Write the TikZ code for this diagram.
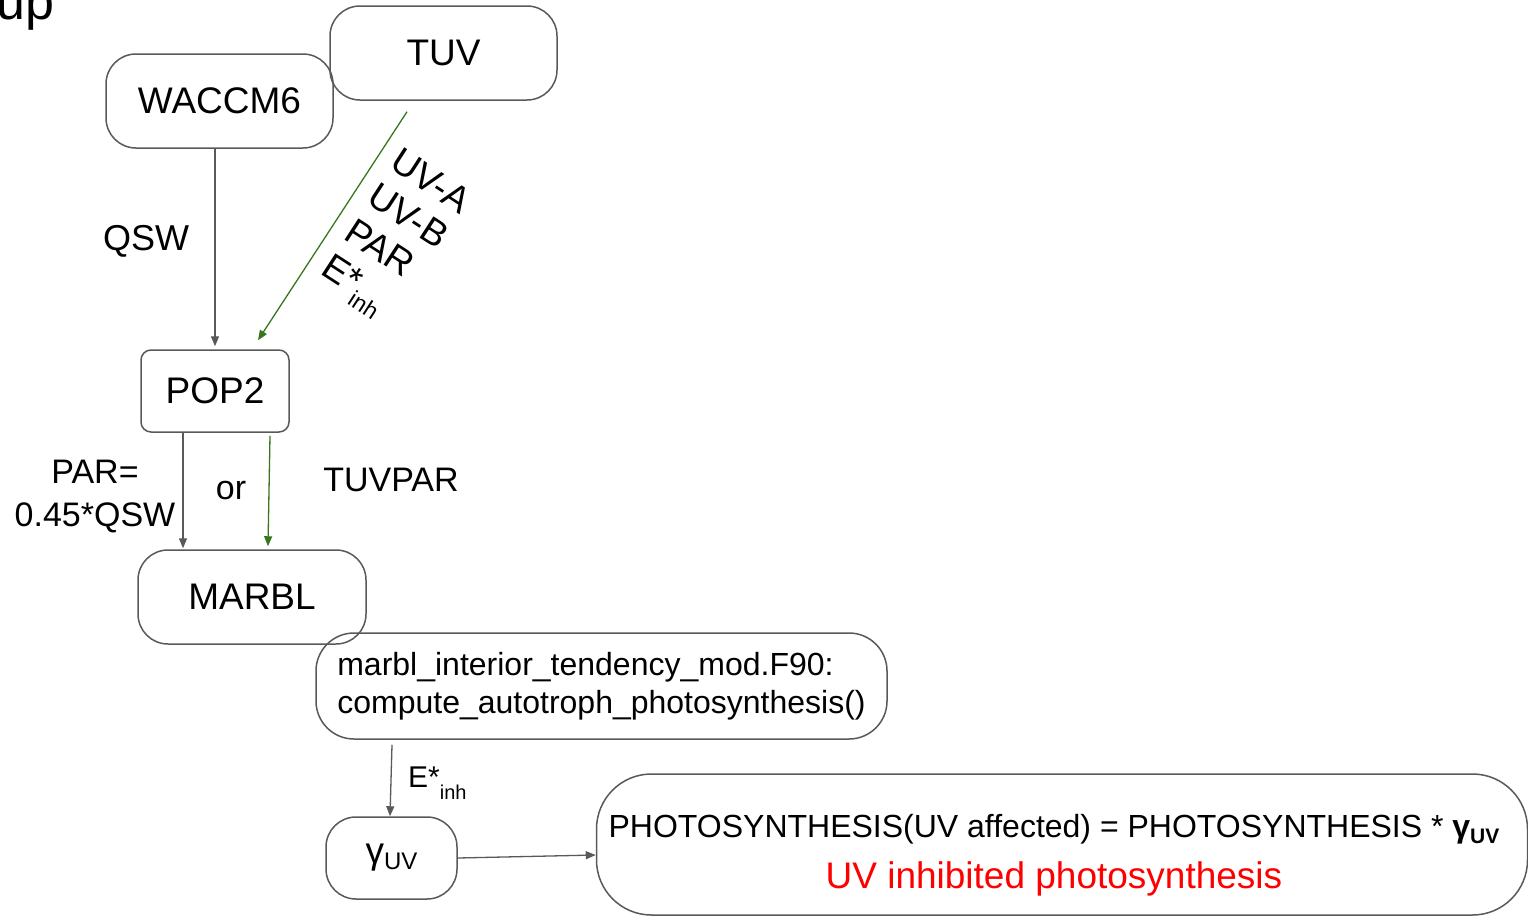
\documentclass[tikz,border=0pt]{standalone}
\usepackage{fontspec}
\setmainfont{Liberation Sans}
\usetikzlibrary{arrows.meta}
\definecolor{lgray}{RGB}{89,89,89}
\definecolor{dgreen}{RGB}{56,118,29}
\definecolor{pred}{RGB}{255,0,0}
\begin{document}
\begin{tikzpicture}[x=1pt,y=-1pt,
  box/.style={draw=lgray, line width=1.5pt, inner sep=0pt, align=center},
  bigtext/.style={font=\fontsize{37}{44}\selectfont},
  lbl/.style={inner sep=0pt, font=\fontsize{34}{43}\selectfont, align=center},
  grayarrow/.style={draw=lgray, line width=1.3pt, -{Triangle[length=10pt,width=8pt]}},
  greenarrow/.style={draw=dgreen, line width=1.3pt, -{Triangle[length=10pt,width=8pt]}}]
\useasboundingbox (0,0) rectangle (1528,918);

% title fragment
\node[anchor=base west, inner sep=0pt, font=\fontsize{52}{52}\selectfont] (title) at (-4,19) {up};

% boxes
\node[box, bigtext, rounded corners=30pt, minimum width=227pt, minimum height=94pt] (waccm) at (219.5,101) {WACCM6};
\node[box, bigtext, rounded corners=30pt, minimum width=227pt, minimum height=94pt] (tuv) at (443.5,53) {TUV};
\node[box, bigtext, rounded corners=10pt, minimum width=148pt, minimum height=82pt] (pop) at (215,391) {POP2};
\node[box, bigtext, rounded corners=30pt, minimum width=228pt, minimum height=94pt] (marbl) at (252,597) {MARBL};
\node[box, rounded corners=38pt, minimum width=571pt, minimum height=106pt, align=left,
      font=\fontsize{32}{38}\selectfont] (code) at (601.5,686)
      {marbl\_interior\_tendency\_mod.F90:\\compute\_autotroph\_photosynthesis()};
\node[box, rounded corners=30pt, minimum width=131pt, minimum height=82pt,
      font=\fontsize{37}{44}\selectfont] (gam) at (391.5,858)
      {γ\raisebox{-6pt}{\fontsize{24}{24}\selectfont UV}};
\node[box, rounded corners=55pt, minimum width=931pt, minimum height=141pt] (photo) at (1062,844.5) {};
\node[anchor=base, inner sep=0pt, font=\fontsize{32}{36}\selectfont] (ph1) at (1054,837)
      {PHOTOSYNTHESIS(UV affected) = PHOTOSYNTHESIS * {\bfseries γ\raisebox{-6pt}{\fontsize{21}{21}\selectfont UV}}};
\node[anchor=base, inner sep=0pt, text=pred, font=\fontsize{37}{44}\selectfont] (ph2) at (1054,888)
      {UV inhibited photosynthesis};

% connectors
\draw[grayarrow] ([xshift=-4.5pt]waccm.south) -- ([yshift=3pt]pop.north);
\draw[greenarrow] ([shift={(-36.5,11)}]tuv.south) -- ([shift={(43,-9)}]pop.north);
\draw[grayarrow] ([xshift=-32pt]pop.south) -- ([shift={(-69,-1)}]marbl.north);
\draw[greenarrow] ([shift={(55,3)}]pop.south) -- ([shift={(16,-3)}]marbl.north);
\draw[grayarrow] ([shift={(-209.5,5)}]code.south) -- ([xshift=-1.5pt]gam.north);
\draw[grayarrow] (gam.east) -- ([yshift=-10.5pt]photo.west);

% labels
\node[lbl, font=\fontsize{36}{43}\selectfont] (qsw) at (146,241) {QSW};
\node[lbl] (parq) at (95,497) {PAR=\\0.45*QSW};
\node[lbl] (or) at (231,491) {or};
\node[lbl] (tuvpar) at (391,480) {TUVPAR};
\node[anchor=base west, inner sep=0pt, font=\fontsize{30}{36}\selectfont] (einh) at (408,787)
      {E*\raisebox{-12pt}{\fontsize{20}{20}\selectfont inh}};
\node[anchor=north west, inner sep=0pt, rotate=-33, align=left, font=\fontsize{37}{42}\selectfont] (uvlist) at (402,146)
      {UV-A\\UV-B\\PAR\\E*\raisebox{-11pt}{\fontsize{23}{23}\selectfont inh}};
\end{tikzpicture}
\end{document}
